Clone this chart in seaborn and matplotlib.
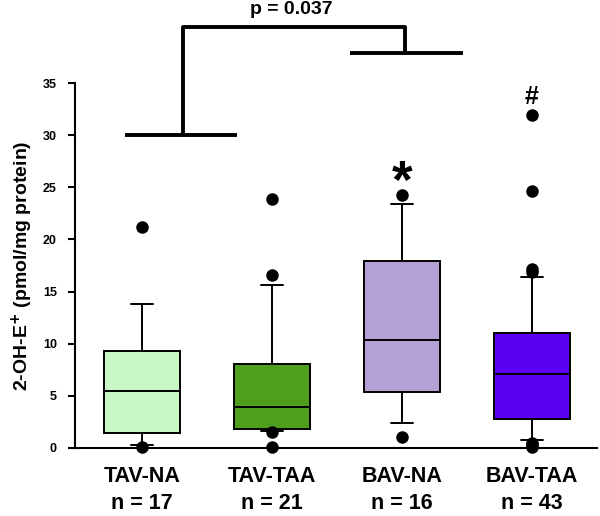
import pandas as pd
import numpy as np
import matplotlib
matplotlib.use("Agg")
import matplotlib.pyplot as plt
import seaborn as sns

# summary values (pmol/mg protein)
groups = ['TAV-NA', 'TAV-TAA', 'BAV-NA', 'BAV-TAA']
n_sizes = [17, 21, 16, 43]
whisker_low = [0.26, 1.6, 2.4, 0.8]
q1 = [1.4, 1.83, 5.4, 2.73]
medians = [5.45, 3.88, 10.35, 7.08]
q3 = [9.3, 8.05, 17.9, 11.06]
whisker_high = [13.8, 15.65, 23.4, 16.4]
outliers = [
    [21.2, 0.1],
    [23.9, 16.6, 1.5, 0.1],
    [24.3, 1.05],
    [31.9, 24.6, 17.2, 16.9, 0.5, 0.3, 0.1],
]
box_colors = ['#c6f7c4', '#4f9f1c', '#b4a1d6', '#5b00f2']
markers = ['', '', '*', '#']
p_text = 'p = 0.037'

# five points per group reproduce the quartiles exactly; whiskers span min-max
rows = []
for g, lo, a, m, b, hi in zip(groups, whisker_low, q1, medians, q3, whisker_high):
    for v in (lo, a, m, b, hi):
        rows.append({'group': g, 'value': v})
box_df = pd.DataFrame(rows)
out_df = pd.DataFrame([{'group': g, 'value': v}
                       for g, vals in zip(groups, outliers) for v in vals])

sns.set_style("ticks")
plt.rcParams['font.family'] = ['Liberation Sans', 'DejaVu Sans']
plt.rcParams['text.color'] = 'black'
plt.rcParams['axes.labelcolor'] = 'black'
plt.rcParams['xtick.color'] = 'black'
plt.rcParams['ytick.color'] = 'black'
plt.rcParams['axes.edgecolor'] = 'black'

fig = plt.figure(figsize=(6.0, 5.16), dpi=100)
ax = fig.add_axes([0.125, 0.132, 0.87, 0.707])

sns.boxplot(data=box_df, x='group', y='value', hue='group', order=groups,
            hue_order=groups, palette=box_colors, saturation=1, whis=(0, 100),
            width=0.585, linecolor='black', linewidth=1.4, legend=False, ax=ax,
            capwidths=0.17)
sns.stripplot(data=out_df, x='group', y='value', order=groups, color='black',
              jitter=False, size=9, ax=ax, zorder=5, clip_on=False)

ax.set_xlim(-0.513, 3.5)
ax.set_ylim(0, 35)
ax.set_yticks(np.arange(0, 36, 5))
ax.set_yticklabels([str(v) for v in range(0, 36, 5)], fontsize=9, fontweight='bold')
ax.set_xticks(range(len(groups)))
ax.set_xticklabels([f'{g}\nn = {n}' for g, n in zip(groups, n_sizes)],
                   fontsize=15.5, fontweight='bold', linespacing=1.35)
ax.tick_params(axis='x', length=0, pad=13)
ax.tick_params(axis='y', length=5, width=1.5, pad=8)
ax.set_xlabel('')
ax.set_ylabel('2-OH-E$^{\\mathbf{+}}$ (pmol/mg protein)', fontsize=14,
              fontweight='bold', labelpad=6)
for side in ['top', 'right']:
    ax.spines[side].set_visible(False)
for side in ['left', 'bottom']:
    ax.spines[side].set_linewidth(1.5)

# significance markers
ax.text(2, 25.3, markers[2], ha='center', va='center', fontsize=38, fontweight='bold')
ax.text(3, 33.7, markers[3], ha='center', va='center', fontsize=18, fontweight='bold')

# comparison bracket TAV vs BAV
kw = dict(color='black', linewidth=2.8, clip_on=False, solid_capstyle='butt')
ax.plot([-0.13, 0.73], [30, 30], **kw)
ax.plot([0.318, 0.318, 2.025, 2.025], [30, 40.4, 40.4, 37.9], **kw)
ax.plot([1.60, 2.47], [37.9, 37.9], **kw)
ax.text(1.15, 41.2, p_text, ha='center', va='bottom', fontsize=14, fontweight='bold')

fig.savefig('out.png', dpi=100)
